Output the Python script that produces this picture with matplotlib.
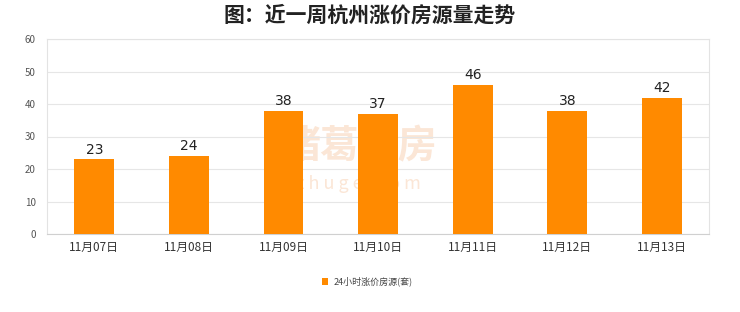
import matplotlib
matplotlib.use('Agg')
import matplotlib.pyplot as plt
from matplotlib.patches import Rectangle

plt.rcParams['font.family'] = ['Noto Sans CJK SC', 'DejaVu Sans']

# data
dates = ['11月07日', '11月08日', '11月09日', '11月10日', '11月11日', '11月12日', '11月13日']
counts = [23, 24, 38, 37, 46, 38, 42]
series_name = '24小时涨价房源(套)'

fig = plt.figure(figsize=(7.4, 3.12), dpi=100)
ax = fig.add_axes([0.0635, 0.25, 0.895, 0.625])

x = range(len(dates))
bars = ax.bar(x, counts, width=0.42, color='#ff8a00', zorder=3)
for xi, v in zip(x, counts):
    ax.text(xi, v + 0.8, str(v), ha='center', va='bottom', fontsize=10, color='#222222',
            family='DejaVu Sans', zorder=4)

ax.set_xlim(-0.5, len(dates) - 0.5)
ax.set_ylim(0, 60)
ax.set_yticks(range(0, 61, 10))
ax.set_xticks(list(x))
ax.set_xticklabels(dates, fontsize=8.5, color='#333333')
ax.tick_params(axis='y', labelsize=7, colors='#555555', length=0, pad=8)
ax.tick_params(axis='x', length=0, pad=5)
ax.grid(axis='y', color='#e6e6e6', linewidth=0.8, zorder=0)
for s in ax.spines.values():
    s.set_color('#e3e3e3')
ax.spines['bottom'].set_color('#d0d0d0')

# faint watermark, behind the bars
ax.text(0.485, 0.53, '诸葛找房', transform=fig.transFigure, ha='center', va='center',
        fontsize=28, color='#fbe6d6', zorder=1, fontweight='bold')
ax.text(0.485, 0.41, 'z h u g e . c o m', transform=fig.transFigure, ha='center', va='center',
        fontsize=13, color='#fbe6d6', zorder=1)

fig.suptitle('图：近一周杭州涨价房源量走势', x=0.5, y=0.985, fontsize=15, fontweight='bold', color='#222222')

# legend
fig.patches.append(Rectangle((0.4345, 0.085), 0.009, 0.024, transform=fig.transFigure,
                             facecolor='#ff8a00', edgecolor='none'))
fig.text(0.4505, 0.097, series_name, fontsize=6.5, color='#444444', va='center', ha='left')

fig.savefig('out.png', dpi=100, facecolor='white')
